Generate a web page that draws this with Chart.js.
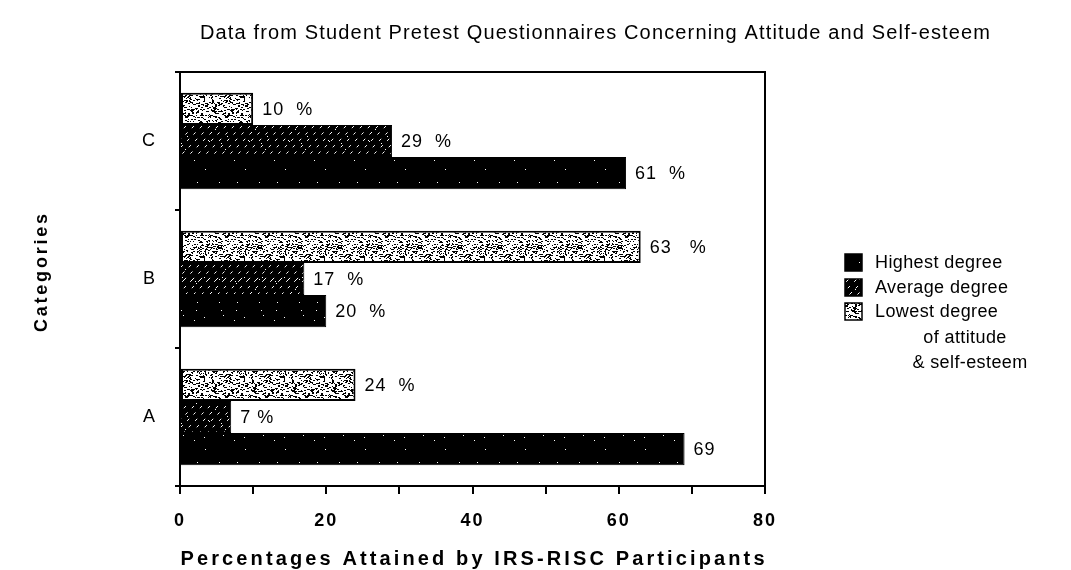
<!DOCTYPE html>
<html><head><meta charset="utf-8">
<script src="https://cdn.jsdelivr.net/npm/chart.js@4.4.0/dist/chart.umd.min.js"></script>
<style>html,body{margin:0;padding:0;background:#fff;overflow:hidden}</style>
</head><body>
<canvas id="c" width="1071" height="570"></canvas>
<script>
// ---- data ----
const categories = ['C', 'B', 'A'];
const seriesNames = ['Highest degree', 'Average degree', 'Lowest degree'];
const highest = [61, 20, 69];
const average = [29, 17, 7];
const lowest = [10, 63, 24];
const highestLabels = ['61  %', '20  %', '69'];
const averageLabels = ['29  %', '17  %', '7 %'];
const lowestLabels = ['10  %', '63   %', '24  %'];
const xTickValues = [0, 20, 40, 60, 80];
const chartTitle = 'Data from Student Pretest Questionnaires Concerning Attitude and Self-esteem';
const xTitle = 'Percentages Attained by IRS-RISC Participants';
const yTitle = 'Categories';
const legendNote = ['of attitude', '& self-esteem'];

// ---- textures ----
const canvas = document.getElementById('c');
const ctx = canvas.getContext('2d');
function lcg(seed){ let s = seed; return () => { s = (s * 1103515245 + 12345) & 0x7fffffff; return s / 0x7fffffff; }; }
function makePattern(kind){
  const c = document.createElement('canvas'); c.width = 40; c.height = 40;
  const g = c.getContext('2d');
  const r = lcg(kind === 'low' ? 7 : kind === 'avg' ? 13 : 29);
  if (kind === 'high') {
    g.fillStyle = '#000'; g.fillRect(0, 0, 40, 40);
    g.fillStyle = '#fff';
    for (let i = 0; i < 8; i++) g.fillRect(Math.floor(r()*40), Math.floor(r()*40), 1, 1);
  } else if (kind === 'avg') {
    g.fillStyle = '#000'; g.fillRect(0, 0, 40, 40);
    g.strokeStyle = '#fff'; g.lineWidth = 1; g.setLineDash([3, 6]);
    for (let k = -40; k < 80; k += 8) { g.beginPath(); g.moveTo(k, 40); g.lineTo(k + 40, 0); g.stroke(); }
    g.fillStyle = '#fff';
    for (let i = 0; i < 12; i++) g.fillRect(Math.floor(r()*40), Math.floor(r()*40), 1, 1);
  } else {
    g.fillStyle = '#fff'; g.fillRect(0, 0, 40, 40);
    g.fillStyle = '#000';
    for (let i = 0; i < 380; i++) g.fillRect(Math.floor(r()*40), Math.floor(r()*40), r() < 0.5 ? 1 : 2, 1);
  }
  return ctx.createPattern(c, 'repeat');
}
const patHigh = makePattern('high');
const patAvg = makePattern('avg');
const patLow = makePattern('low');

// ---- text helpers ----
const FF = '"Liberation Sans", Arial, sans-serif';
function drawText(g, text, x, y, font, align, spacing){
  g.save(); g.font = font; g.letterSpacing = (spacing || 0) + 'px';
  g.textAlign = align || 'left'; g.textBaseline = 'middle'; g.fillStyle = '#000';
  g.fillText(text, x, y); g.restore();
}
function fitText(g, text, cx, cy, font, width){
  g.save(); g.font = font; g.letterSpacing = '0px';
  const w = g.measureText(text).width; g.restore();
  const sp = (width - w) / Math.max(1, text.length - 1);
  g.save(); g.font = font; g.letterSpacing = sp + 'px'; g.textAlign = 'left'; g.textBaseline = 'middle'; g.fillStyle = '#000';
  g.fillText(text, cx - width / 2, cy); g.restore();
}

const decor = {
  id: 'decor',
  beforeDraw(chart){ chart.ctx.letterSpacing = '2px'; },
  afterDatasetsDraw(chart){
    const g = chart.ctx;
    const labelSets = [lowestLabels, averageLabels, highestLabels];
    chart.data.datasets.forEach((ds, di) => {
      const meta = chart.getDatasetMeta(di);
      meta.data.forEach((bar, i) => {
        drawText(g, labelSets[di][i], bar.x + 9, bar.y + 1, '18px ' + FF, 'left', 1);
      });
    });
  },
  afterDraw(chart){
    const g = chart.ctx; const a = chart.chartArea;
    g.save(); g.letterSpacing = '0px'; g.strokeStyle = '#000'; g.lineWidth = 2;
    g.strokeRect(a.left, a.top, a.right - a.left, a.bottom - a.top);
    g.beginPath(); g.moveTo(a.left - 4, a.top); g.lineTo(a.left, a.top); g.stroke();
    g.restore();
    // titles
    fitText(g, chartTitle, 595, 33, '20px ' + FF, 790);
    fitText(g, xTitle, (a.left + a.right) / 2, 559, 'bold 20px ' + FF, 584);
    g.save(); g.translate(42, (a.top + a.bottom) / 2 - 6); g.rotate(-Math.PI / 2);
    fitText(g, yTitle, 0, 0, 'bold 18px ' + FF, 118); g.restore();
    // legend
    const pats = [patHigh, patAvg, patLow];
    const rows = [262, 287, 311];
    seriesNames.forEach((n, i) => {
      g.save(); g.fillStyle = pats[i]; g.fillRect(845, rows[i] - 8, 17, 17);
      g.strokeStyle = '#000'; g.lineWidth = 1.5; g.strokeRect(845, rows[i] - 8, 17, 17); g.restore();
      drawText(g, n, 875, rows[i] + 1, '18px ' + FF, 'left', 0.4);
    });
    drawText(g, legendNote[0], 965, 338, '18px ' + FF, 'center', 0.4);
    drawText(g, legendNote[1], 970, 363, '18px ' + FF, 'center', 0.4);
  }
};

new Chart(ctx, {
  type: 'bar',
  data: {
    labels: categories,
    datasets: [
      { label: seriesNames[2], data: lowest, backgroundColor: patLow, borderColor: '#000', borderWidth: 2, borderSkipped: false },
      { label: seriesNames[1], data: average, backgroundColor: patAvg, borderColor: '#000', borderWidth: 1 },
      { label: seriesNames[0], data: highest, backgroundColor: patHigh, borderColor: '#000', borderWidth: 1 }
    ]
  },
  options: {
    indexAxis: 'y', responsive: false, animation: false, devicePixelRatio: 1,
    layout: { padding: { left: 0, right: 306, top: 72, bottom: 0 } },
    datasets: { bar: { categoryPercentage: 0.70, barPercentage: 1.0 } },
    plugins: { legend: { display: false }, title: { display: false }, tooltip: { enabled: false } },
    scales: {
      x: {
        min: 0, max: 80,
        afterFit(s){ s.height = 84; },
        ticks: { stepSize: 10, autoSkip: false, maxRotation: 0, padding: 16, color: '#000',
          callback: (v) => xTickValues.includes(v) ? String(v) : '',
          font: { family: FF, size: 18, weight: 'bold' } },
        grid: { drawOnChartArea: false, drawTicks: true, tickLength: 8, color: '#000', lineWidth: 2 },
        border: { color: '#000', width: 2 }
      },
      y: {
        afterFit(s){ s.width = 180; },
        ticks: { padding: 18, color: '#000', font: { family: FF, size: 18 } },
        grid: { drawOnChartArea: false, drawTicks: true, tickLength: 5, color: '#000', lineWidth: 2, offset: true },
        border: { color: '#000', width: 2 }
      }
    }
  },
  plugins: [decor]
});
</script>
</body></html>
